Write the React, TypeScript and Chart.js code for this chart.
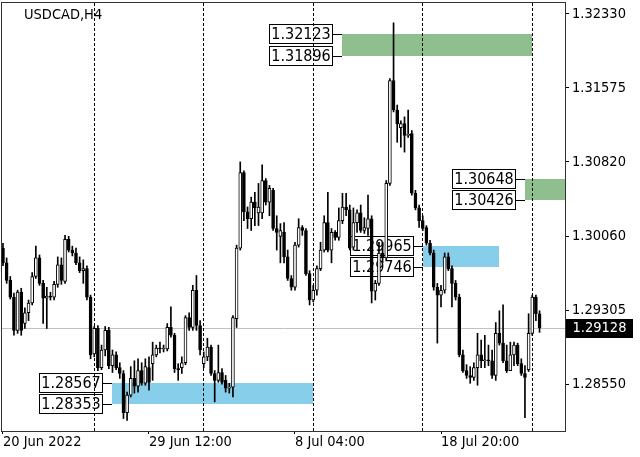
import React, { useEffect, useRef } from 'react';
import { Chart, registerables } from 'chart.js';

Chart.register(...registerables);

const FONT = '"DejaVu Sans Condensed", "DejaVu Sans", sans-serif';

const symbolTitle = 'USDCAD,H4';

// H4 candles (bar 0 = first visible bar)
const opens = [
  1.2994, 1.2979, 1.2961, 1.2944, 1.2910, 1.2949, 1.2917, 1.2928, 1.2938, 1.2965,
  1.2984, 1.2958, 1.2943, 1.2945, 1.2944, 1.2957, 1.2977, 1.2960, 1.3003, 1.2992,
  1.2989, 1.2979, 1.2971, 1.2973, 1.2944, 1.2886, 1.2912, 1.2872, 1.2890, 1.2910,
  1.2874, 1.2885, 1.2872, 1.2866, 1.2826, 1.2844, 1.2861, 1.2853, 1.2869, 1.2856,
  1.2872, 1.2876, 1.2885, 1.2892, 1.2891, 1.2891, 1.2913, 1.2905, 1.2871, 1.2872,
  1.2877, 1.2923, 1.2913, 1.2951, 1.2915, 1.2876, 1.2883, 1.2893, 1.2866, 1.2859,
  1.2867, 1.2859, 1.2851, 1.2852, 1.2922, 1.2994, 1.3071, 1.3031, 1.3024, 1.3041,
  1.3030, 1.3030, 1.3063, 1.3041, 1.3053, 1.3014, 1.3006, 1.3010, 1.2985, 1.2963,
  1.2954, 1.2997, 1.3015, 1.3012, 1.2968, 1.2941, 1.2951, 1.2973, 1.2992, 1.3020,
  1.2992, 1.3010, 1.3005, 1.3022, 1.3036, 1.3033, 1.2995, 1.3020, 1.3030, 1.3012,
  1.3014, 1.3024, 1.2950, 1.2958, 1.2989, 1.2984, 1.3060, 1.3165, 1.3135, 1.3117,
  1.3121, 1.3109, 1.3111, 1.3050, 1.3035, 1.3022, 1.3015, 1.2999, 1.2989, 1.2954,
  1.2946, 1.2951, 1.2985, 1.2973, 1.2958, 1.2944, 1.2885, 1.2869, 1.2864, 1.2862,
  1.2872, 1.2885, 1.2879, 1.2880, 1.2879, 1.2864, 1.2907, 1.2897, 1.2879, 1.2869,
  1.2885, 1.2895, 1.2876, 1.2866, 1.2870, 1.2907, 1.2944, 1.2927,
];
const highs = [
  1.2999, 1.2984, 1.2965, 1.2948, 1.2951, 1.2953, 1.2933, 1.2941, 1.2969, 1.2996,
  1.2987, 1.2961, 1.2954, 1.2949, 1.2960, 1.2985, 1.2984, 1.3007, 1.3006, 1.2996,
  1.2994, 1.2985, 1.2982, 1.2976, 1.2946, 1.2914, 1.2915, 1.2895, 1.2914, 1.2913,
  1.2890, 1.2888, 1.2877, 1.2869, 1.2847, 1.2873, 1.2879, 1.2881, 1.2877, 1.2881,
  1.2883, 1.2898, 1.2895, 1.2898, 1.2895, 1.2917, 1.2934, 1.2907, 1.2876, 1.2883,
  1.2925, 1.2928, 1.2956, 1.2966, 1.2920, 1.2888, 1.2902, 1.2895, 1.2869, 1.2895,
  1.2871, 1.2864, 1.2856, 1.2925, 1.2997, 1.3082, 1.3073, 1.3036, 1.3046, 1.3051,
  1.3060, 1.3079, 1.3065, 1.3058, 1.3055, 1.3027, 1.3019, 1.3020, 1.2992, 1.2966,
  1.3000, 1.3024, 1.3017, 1.3014, 1.2971, 1.2956, 1.2976, 1.3000, 1.3027, 1.3051,
  1.3014, 1.3012, 1.3035, 1.3050, 1.3050, 1.3038, 1.3035, 1.3033, 1.3038, 1.3025,
  1.3048, 1.3027, 1.2961, 1.3000, 1.3000, 1.3063, 1.3167, 1.3224, 1.3140, 1.3124,
  1.3128, 1.3135, 1.3114, 1.3053, 1.3038, 1.3027, 1.3017, 1.3002, 1.2992, 1.2958,
  1.2956, 1.2989, 1.2989, 1.2976, 1.2961, 1.2947, 1.2890, 1.2875, 1.2873, 1.2877,
  1.2907, 1.2900, 1.2905, 1.2895, 1.2890, 1.2918, 1.2930, 1.2936, 1.2895, 1.2898,
  1.2898, 1.2897, 1.2881, 1.2874, 1.2927, 1.2946, 1.2946, 1.2930,
];
const lows = [
  1.2976, 1.2958, 1.2942, 1.2905, 1.2907, 1.2905, 1.2912, 1.2920, 1.2936, 1.2963,
  1.2956, 1.2917, 1.2912, 1.2941, 1.2941, 1.2954, 1.2957, 1.2958, 1.2990, 1.2986,
  1.2977, 1.2969, 1.2958, 1.2941, 1.2881, 1.2883, 1.2869, 1.2870, 1.2884, 1.2871,
  1.2867, 1.2870, 1.2861, 1.2820, 1.2818, 1.2842, 1.2846, 1.2847, 1.2854, 1.2854,
  1.2849, 1.2859, 1.2883, 1.2887, 1.2888, 1.2889, 1.2903, 1.2867, 1.2859, 1.2866,
  1.2875, 1.2910, 1.2910, 1.2910, 1.2885, 1.2872, 1.2879, 1.2864, 1.2837, 1.2857,
  1.2855, 1.2847, 1.2846, 1.2842, 1.2913, 1.2992, 1.3022, 1.3014, 1.3012, 1.3017,
  1.3017, 1.3024, 1.3038, 1.3027, 1.3012, 1.2992, 1.2979, 1.2979, 1.2961, 1.2951,
  1.2951, 1.2995, 1.3007, 1.2966, 1.2936, 1.2939, 1.2946, 1.2971, 1.2990, 1.2990,
  1.2979, 1.3002, 1.3002, 1.3019, 1.3027, 1.2992, 1.2992, 1.3010, 1.3010, 1.3009,
  1.3007, 1.2938, 1.2941, 1.2956, 1.2979, 1.2982, 1.3058, 1.3133, 1.3102, 1.3097,
  1.3092, 1.3107, 1.3048, 1.3033, 1.3015, 1.3012, 1.2997, 1.2987, 1.2951, 1.2897,
  1.2934, 1.2948, 1.2971, 1.2934, 1.2941, 1.2883, 1.2867, 1.2861, 1.2856, 1.2859,
  1.2854, 1.2872, 1.2872, 1.2874, 1.2861, 1.2859, 1.2895, 1.2877, 1.2867, 1.2869,
  1.2874, 1.2874, 1.2864, 1.2821, 1.2868, 1.2905, 1.2920, 1.2908,
];
const closes = [
  1.2979, 1.2961, 1.2944, 1.2910, 1.2949, 1.2910, 1.2928, 1.2938, 1.2965, 1.2984,
  1.2958, 1.2943, 1.2945, 1.2944, 1.2957, 1.2977, 1.2961, 1.3003, 1.2992, 1.2989,
  1.2979, 1.2971, 1.2973, 1.2944, 1.2885, 1.2912, 1.2872, 1.2890, 1.2910, 1.2874,
  1.2885, 1.2872, 1.2866, 1.2826, 1.2844, 1.2861, 1.2853, 1.2869, 1.2856, 1.2873,
  1.2857, 1.2885, 1.2892, 1.2891, 1.2892, 1.2913, 1.2905, 1.2871, 1.2870, 1.2877,
  1.2923, 1.2913, 1.2951, 1.2915, 1.2890, 1.2883, 1.2893, 1.2866, 1.2859, 1.2867,
  1.2857, 1.2851, 1.2852, 1.2923, 1.2994, 1.3071, 1.3031, 1.3024, 1.3041, 1.3035,
  1.3036, 1.3063, 1.3041, 1.3055, 1.3014, 1.3010, 1.3012, 1.2985, 1.2963, 1.2954,
  1.2997, 1.3015, 1.3012, 1.2968, 1.2941, 1.2951, 1.2973, 1.2992, 1.3020, 1.2992,
  1.3010, 1.3005, 1.3022, 1.3036, 1.3033, 1.2994, 1.3020, 1.3030, 1.3012, 1.3015,
  1.3024, 1.2950, 1.2958, 1.2989, 1.2984, 1.3060, 1.3165, 1.3135, 1.3121, 1.3121,
  1.3109, 1.3110, 1.3050, 1.3035, 1.3022, 1.3014, 1.2999, 1.2989, 1.2954, 1.2946,
  1.2951, 1.2985, 1.2973, 1.2958, 1.2944, 1.2885, 1.2869, 1.2864, 1.2862, 1.2872,
  1.2885, 1.2879, 1.2880, 1.2879, 1.2864, 1.2907, 1.2897, 1.2879, 1.2869, 1.2885,
  1.2895, 1.2876, 1.2866, 1.2862, 1.2907, 1.2944, 1.2927, 1.29128,
];

const bidPrice = 1.29128;

const priceTicks = [1.2855, 1.29305, 1.3006, 1.3082, 1.31575, 1.3233];
const timeTickBars = [0, 40, 80, 120];
const timeTickLabels = ['20 Jun 2022', '29 Jun 12:00', '8 Jul 04:00', '18 Jul 20:00'];
const gridBars = [25, 55, 85, 115, 145];

// rectangles drawn on the chart (bar from / bar to, price top / bottom)
const zoneFrom = [30, 93, 115, 143];
const zoneTo = [85, 145, 136, 170];
const zoneTop = [1.28567, 1.32123, 1.29965, 1.30648];
const zoneBottom = [1.28353, 1.31896, 1.29746, 1.30426];
const zoneColors = ['#87ceeb', '#8fbf8f', '#87ceeb', '#8fbf8f'];

const X_MIN = -0.27;
const X_MAX = 153.97;

const objectsPlugin = {
  id: 'mtObjects',
  beforeDraw(chart: any) {
    const { ctx, chartArea: a, scales } = chart;
    const x = scales.x;
    const y = scales.y;
    ctx.save();
    ctx.beginPath();
    ctx.rect(a.left, a.top, a.right - a.left, a.bottom - a.top);
    ctx.clip();

    const by = Math.round(y.getPixelForValue(bidPrice)) + 0.5;
    ctx.strokeStyle = '#c0c0c0';
    ctx.lineWidth = 1;
    ctx.beginPath();
    ctx.moveTo(a.left, by);
    ctx.lineTo(a.right, by);
    ctx.stroke();

    zoneFrom.forEach((from, k) => {
      const x0 = Math.round(x.getPixelForValue(from));
      const x1 = Math.round(x.getPixelForValue(zoneTo[k]));
      const y0 = Math.round(y.getPixelForValue(zoneTop[k]));
      const y1 = Math.round(y.getPixelForValue(zoneBottom[k]));
      ctx.fillStyle = zoneColors[k];
      ctx.fillRect(x0, y0, x1 - x0, y1 - y0);
    });

    ctx.font = `16px ${FONT}`;
    ctx.textAlign = 'center';
    ctx.textBaseline = 'middle';
    ctx.strokeStyle = '#000';
    zoneFrom.forEach((from, k) => {
      const anchorX = Math.round(x.getPixelForValue(from));
      [zoneTop[k], zoneBottom[k]].forEach((price) => {
        const py = Math.round(y.getPixelForValue(price));
        const text = price.toFixed(5);
        const boxW = Math.round(ctx.measureText(text).width + 4);
        const boxRight = anchorX - 9;
        ctx.fillStyle = '#fff';
        ctx.fillRect(boxRight - boxW, py - 10, boxW, 20);
        ctx.strokeRect(boxRight - boxW + 0.5, py - 9.5, boxW - 1, 19);
        ctx.fillStyle = '#000';
        ctx.fillText(text, boxRight - boxW / 2, py + 1);
        ctx.beginPath();
        ctx.moveTo(boxRight, py + 0.5);
        ctx.lineTo(anchorX, py + 0.5);
        ctx.stroke();
      });
    });
    ctx.restore();
  },
  afterDraw(chart: any) {
    const { ctx, chartArea: a, scales } = chart;
    const y = scales.y;
    ctx.save();
    ctx.strokeStyle = '#333';
    ctx.lineWidth = 1;
    ctx.strokeRect(a.left - 0.5, a.top - 0.5, a.right - a.left + 1, a.bottom - a.top + 1);

    const py = Math.round(y.getPixelForValue(bidPrice));
    ctx.fillStyle = '#000';
    ctx.fillRect(a.right + 1, py - 9, 67, 19);
    ctx.fillStyle = '#fff';
    ctx.font = `14.5px ${FONT}`;
    ctx.textAlign = 'left';
    ctx.textBaseline = 'middle';
    ctx.fillText(bidPrice.toFixed(5), a.right + 7.5, py + 0.5);

    ctx.fillStyle = '#000';
    ctx.textBaseline = 'alphabetic';
    ctx.fillText(symbolTitle, 24, 19);
    ctx.restore();
  },
};

export default function App() {
  const canvasRef = useRef<HTMLCanvasElement>(null);

  useEffect(() => {
    if (!canvasRef.current) return;
    const bars = opens.map((_, i) => i);
    const chart = new Chart(canvasRef.current, {
      type: 'bar',
      data: {
        datasets: [
          {
            label: 'body',
            data: bars.map((i) => ({ x: i, y: [opens[i], closes[i]] })) as any,
            backgroundColor: bars.map((i) => (closes[i] >= opens[i] ? '#ffffff' : '#000000')),
            borderColor: '#000',
            borderWidth: 1,
            borderSkipped: false,
            barThickness: 3,
            minBarLength: 1,
            grouped: false,
            order: 1,
          },
          {
            label: 'wick',
            data: bars.map((i) => ({ x: i, y: [lows[i], highs[i]] })) as any,
            backgroundColor: '#000',
            borderWidth: 0,
            barThickness: 1,
            grouped: false,
            order: 2,
          },
        ],
      },
      options: {
        animation: false,
        responsive: true,
        maintainAspectRatio: false,
        events: [],
        layout: { padding: { left: 2, top: 3, right: 0, bottom: 0 } },
        plugins: { legend: { display: false }, tooltip: { enabled: false } },
        scales: {
          x: {
            type: 'linear',
            position: 'bottom',
            min: X_MIN,
            max: X_MAX,
            offset: false,
            afterBuildTicks: (s: any) => {
              s.ticks = timeTickBars.map((value) => ({ value }));
            },
            afterFit: (s: any) => {
              s.height = 26;
              s.paddingLeft = 0;
              s.paddingRight = 0;
            },
            grid: { offset: false, drawOnChartArea: false, drawTicks: true, tickLength: 3, tickColor: '#000' },
            border: { display: false },
            ticks: {
              align: 'start',
              padding: 0,
              maxRotation: 0,
              autoSkip: false,
              color: '#000',
              font: { family: FONT, size: 14.5 },
              callback: (v: any) => timeTickLabels[timeTickBars.indexOf(Number(v))] ?? '',
            },
          },
          x2: {
            type: 'linear',
            position: 'top',
            min: X_MIN,
            max: X_MAX,
            offset: false,
            afterBuildTicks: (s: any) => {
              s.ticks = gridBars.map((value) => ({ value }));
            },
            afterFit: (s: any) => {
              s.height = 0;
              s.paddingLeft = 0;
              s.paddingRight = 0;
            },
            grid: { offset: false, drawOnChartArea: true, drawTicks: false, color: '#000', lineWidth: 1 },
            border: { display: false, dash: [3, 2] },
            ticks: { display: false },
          },
          y: {
            type: 'linear',
            position: 'right',
            min: 1.28073,
            max: 1.32442,
            beginAtZero: false,
            afterBuildTicks: (s: any) => {
              s.ticks = priceTicks.map((value) => ({ value }));
            },
            afterFit: (s: any) => {
              s.width = 75;
              s.paddingTop = 0;
              s.paddingBottom = 0;
            },
            grid: { drawOnChartArea: false, drawTicks: true, tickLength: 4, tickColor: '#000' },
            border: { display: false },
            ticks: {
              padding: 3,
              autoSkip: false,
              color: '#000',
              font: { family: FONT, size: 14.5 },
              callback: (v: any) => Number(v).toFixed(5),
            },
          },
        },
      },
      plugins: [objectsPlugin],
    });
    return () => chart.destroy();
  }, []);

  return (
    <div style={{ position: 'fixed', left: 0, top: 0, width: 640, height: 457, background: '#fff' }}>
      <canvas ref={canvasRef} />
    </div>
  );
}
